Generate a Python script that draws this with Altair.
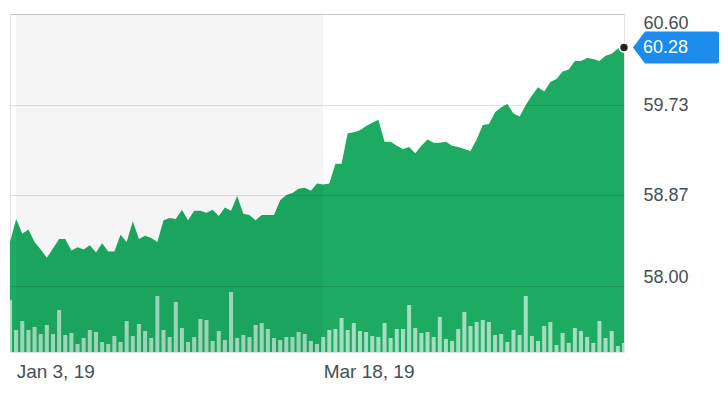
import altair as alt
import pandas as pd

# ---- data ----
prices = [
    58.42, 58.64, 58.50, 58.54, 58.42, 58.35, 58.27, 58.36, 58.45, 58.45,
    58.34, 58.37, 58.35, 58.39, 58.32, 58.41, 58.33, 58.33, 58.49, 58.42,
    58.62, 58.45, 58.48, 58.46, 58.42, 58.63,
    58.65, 58.64, 58.73, 58.63, 58.72, 58.72, 58.70, 58.73, 58.67, 58.75,
    58.72, 58.86, 58.69, 58.68, 58.63, 58.68, 58.68, 58.68, 58.82, 58.87,
    58.89, 58.93, 58.94, 58.91, 58.98, 58.97, 58.98,
    59.17, 59.17, 59.46, 59.47, 59.49, 59.53, 59.56, 59.59, 59.38, 59.38,
    59.34, 59.31, 59.33, 59.27, 59.34, 59.40, 59.37, 59.37, 59.38, 59.34,
    59.33, 59.31, 59.29, 59.40,
    59.54, 59.55, 59.66, 59.71, 59.74, 59.65, 59.62, 59.73, 59.82, 59.90,
    59.86, 59.95, 59.98, 60.05, 60.07, 60.15, 60.15, 60.18, 60.17, 60.15,
    60.20, 60.22, 60.27, 60.28,
]
volumes = [
    52, 22, 31, 22, 25, 18, 27, 18, 42, 17, 19, 8, 14, 22, 20, 10, 8, 16, 10, 31,
    16, 28, 21, 14, 56, 22,
    15, 50, 24, 10, 15, 33, 32, 11, 21, 12, 60, 14, 17, 15, 27, 29, 23, 14, 12,
    15, 15, 20, 18, 11, 8,
    15, 22, 23, 34, 22, 29, 21, 20, 16, 15, 29, 14, 23, 23, 47, 24, 19, 20, 15,
    35, 13, 11, 23, 40, 26,
    30, 32, 30, 17, 18, 10, 22, 17, 56, 16, 11, 26, 30, 7, 19, 9, 24, 21, 15, 9,
    31, 14, 21, 6, 9,
]
x_tick_index = [1, 51]
x_tick_labels = ["Jan 3, 19", "Mar 18, 19"]
y_ticks = [58.00, 58.87, 59.73, 60.60]
y_domain = [57.37, 60.60]
volume_domain = [0, 338]
highlight = {"start": [1], "end": [51]}

# ---- styling constants ----
W, H = 614, 338
GREEN = "#1dab61"
LABEL = "#464e56"
BLUE = "#1b8ced"

n = len(prices)
df = pd.DataFrame({"i": list(range(n)), "price": prices, "volume": volumes})
last = df.tail(1)
hl = pd.DataFrame(highlight)

label_expr = " : ".join(
    f"datum.value == {v} ? '{t}'" for v, t in zip(x_tick_index, x_tick_labels)
) + " : ''"

xscale = alt.Scale(domain=[0, n - 1], nice=False, zero=False, padding=0)
yscale = alt.Scale(domain=y_domain, nice=False, zero=False, padding=0)

x_axis = alt.Axis(
    values=x_tick_index, labelExpr=label_expr, labelAlign="left",
    labelFontSize=19, labelColor=LABEL, labelFont="Liberation Sans",
    ticks=False, domain=False, grid=False, labelPadding=10, title=None,
    labelBound=False, labelOverlap=False, labelFlush=False,
)
y_axis = alt.Axis(
    orient="right", values=y_ticks, format=".2f", labelFontSize=18,
    labelColor=LABEL, labelFont="Liberation Sans", ticks=False, domain=False,
    grid=True, gridColor="#000000", gridOpacity=0.12, labelPadding=19,
    labelFlush=75, title=None, zindex=1,
)

X = alt.X("i:Q", scale=xscale, axis=x_axis)

base = alt.Chart(df)

area = base.mark_area(color=GREEN, clip=True, opacity=1).encode(
    x=X,
    y=alt.Y("price:Q", scale=yscale, axis=y_axis),
    y2=alt.value(H),
)

bars = base.mark_bar(size=4, color="#ffffff", opacity=0.6, clip=True).encode(
    x=X,
    y=alt.Y("volume:Q", scale=alt.Scale(domain=volume_domain, padding=0), axis=None),
)

shade = alt.Chart(hl).mark_rect(color="#000000", opacity=0.04, clip=True).encode(
    x=alt.X("start:Q", scale=xscale, axis=x_axis),
    x2="end:Q",
    y=alt.value(0),
    y2=alt.value(H),
)

tag_path = "M 9 0 L 21 -16 L 93 -16 Q 95 -16 95 -14 L 95 14 Q 95 16 93 16 L 21 16 Z"
tag = alt.Chart(last).mark_point(
    shape=tag_path, size=4, filled=True, color=BLUE, opacity=1
).encode(
    x=X,
    y=alt.Y("price:Q", scale=yscale, axis=None),
)
tag_text = alt.Chart(last).mark_text(
    align="left", baseline="middle", dx=19, dy=1, fontSize=18,
    font="Liberation Sans", color="#ffffff"
).encode(
    x=X,
    y=alt.Y("price:Q", scale=yscale, axis=None),
    text=alt.Text("price:Q", format=".2f"),
)
dot = alt.Chart(last).mark_circle(
    size=80, color="#222222", opacity=1, stroke="#ffffff", strokeWidth=1.5
).encode(
    x=X,
    y=alt.Y("price:Q", scale=yscale, axis=None),
)

chart = (
    alt.layer(area, bars, shade, tag, tag_text, dot)
    .resolve_scale(y="independent")
    .properties(
        width=W, height=H,
        padding={"left": 2, "top": 6, "right": 96, "bottom": 36},
        autosize=alt.AutoSizeParams(type="none"),
        background="#ffffff",
    )
    .configure_view(stroke="#dfe3e8", strokeWidth=1)
)

chart.save("out.html", embed_options={"renderer": "svg", "actions": False})
